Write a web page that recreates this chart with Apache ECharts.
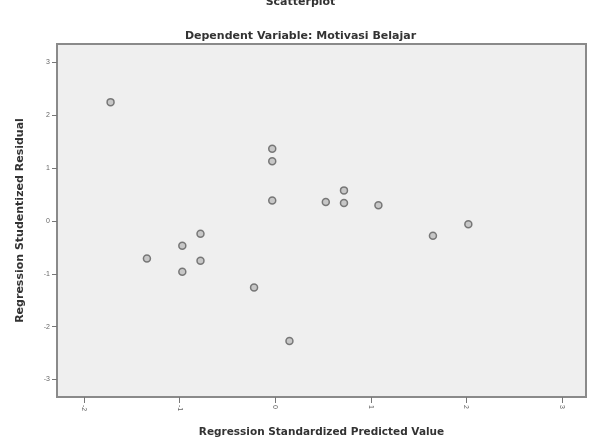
<!DOCTYPE html>
<html>
<head>
<meta charset="utf-8">
<script src="https://cdn.jsdelivr.net/npm/echarts@6/dist/echarts.min.js"></script>
<style>
  html, body { margin: 0; padding: 0; background: #fff; }
  #chart { width: 601px; height: 443px; }
</style>
</head>
<body>
<div id="chart"></div>
<script>
// regression standardized predicted value (x) / studentized residual (y)
const predicted = [-1.72, -0.03, -0.03, -0.03, 0.53, 0.72, 0.72, 1.08, 1.65, 2.02,
                   -0.78, -0.97, -1.34, -0.78, -0.97, -0.22, 0.15];
const residual = [2.25, 1.37, 1.13, 0.39, 0.36, 0.58, 0.34, 0.30, -0.28, -0.06,
                  -0.24, -0.47, -0.71, -0.75, -0.96, -1.26, -2.27];
const xTicks = [-2, -1, 0, 1, 2, 3];
const yTicks = [-3, -2, -1, 0, 1, 2, 3];

const points = predicted.map((v, i) => [v, residual[i]]);

const chart = echarts.init(document.getElementById('chart'));
chart.setOption({
  animation: false,
  title: [
    {
      text: 'Scatterplot',
      left: 'center',
      top: -8,
      textStyle: { fontFamily: 'DejaVu Sans', fontSize: 11, fontWeight: 'bold', color: '#333' }
    },
    {
      text: 'Dependent Variable: Motivasi Belajar',
      left: 'center',
      top: 26,
      textStyle: { fontFamily: 'DejaVu Sans', fontSize: 11, fontWeight: 'bold', color: '#333' }
    }
  ],
  grid: {
    left: 57,
    right: 15,
    top: 44,
    bottom: 42,
    show: true,
    backgroundColor: '#efefef',
    borderColor: '#8a8a8a',
    borderWidth: 2
  },
  xAxis: {
    type: 'value',
    min: -2.28,
    max: 3.25,
    name: 'Regression Standardized Predicted Value',
    nameLocation: 'middle',
    nameGap: 30,
    nameTextStyle: { fontFamily: 'DejaVu Sans', fontSize: 10.5, fontWeight: 'bold', color: '#333' },
    axisLine: { show: false, onZero: false },
    splitLine: { show: false },
    axisTick: { show: true, length: 6, customValues: xTicks, lineStyle: { color: '#777', width: 1 } },
    axisLabel: {
      customValues: xTicks,
      rotate: -90,
      fontSize: 7,
      color: '#666',
      margin: 8
    }
  },
  yAxis: {
    type: 'value',
    min: -3.33,
    max: 3.35,
    name: 'Regression Studentized Residual',
    nameLocation: 'middle',
    nameGap: 31,
    nameTextStyle: { fontFamily: 'DejaVu Sans', fontSize: 11, fontWeight: 'bold', color: '#333' },
    axisLine: { show: false, onZero: false },
    splitLine: { show: false },
    axisTick: { show: true, length: 5, customValues: yTicks, lineStyle: { color: '#777', width: 1 } },
    axisLabel: {
      customValues: yTicks,
      fontSize: 7,
      color: '#666',
      margin: 7
    }
  },
  series: [
    {
      type: 'scatter',
      data: points,
      symbol: 'circle',
      symbolSize: 7,
      itemStyle: { color: '#bdbdbd', borderColor: '#5e5e5e', borderWidth: 1.5 }
    }
  ]
});
</script>
</body>
</html>
